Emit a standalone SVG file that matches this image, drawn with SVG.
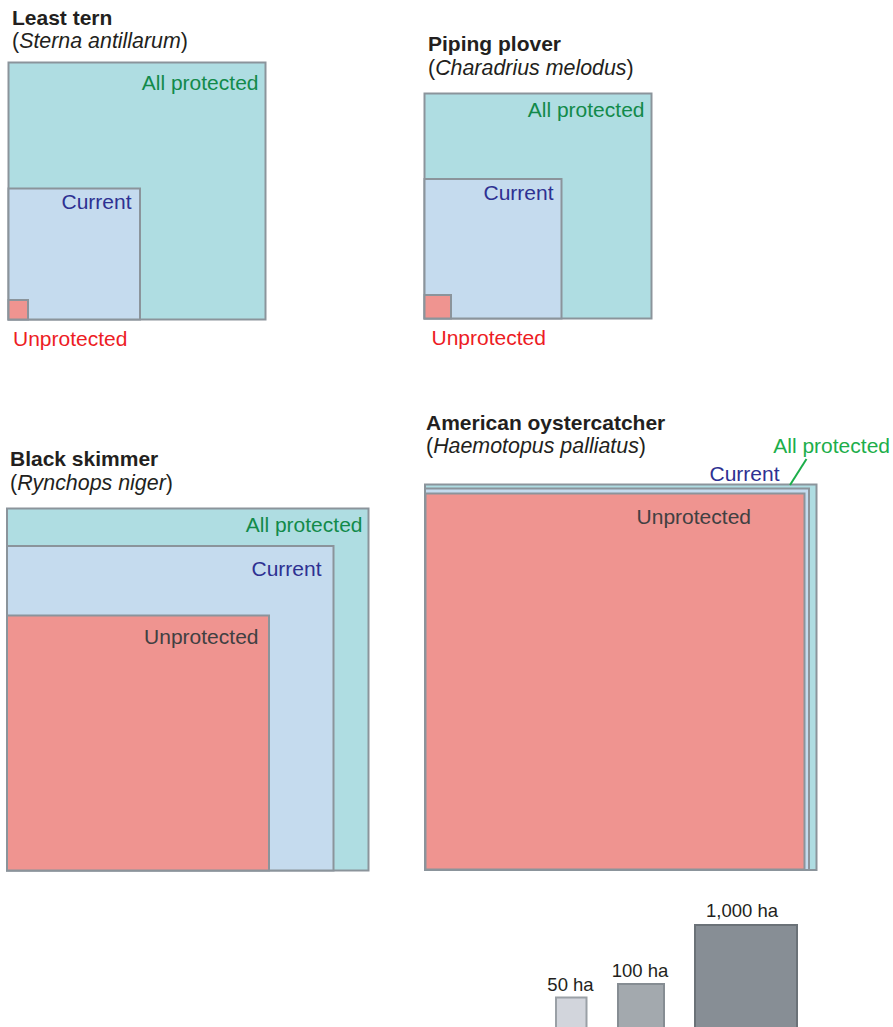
<svg xmlns="http://www.w3.org/2000/svg" width="893" height="1027" viewBox="0 0 893 1027">
<style>
text{font-family:"Liberation Sans",Arial,sans-serif;font-size:21px}
.t{font-weight:bold;fill:#231f20}
.s{fill:#231f20;font-size:21.4px}
.i{font-style:italic}
.r{stroke:#8b949b;stroke-width:2}
.ap{fill:#afdde2}
.cu{fill:#c5dbee}
.un{fill:#ef9490}
.lap{fill:#128a4a;text-anchor:end}
.lcu{fill:#2e3192;text-anchor:end}
.lun{fill:#ed1c24}
.lui{fill:#414042;text-anchor:end}
.sc{font-family:"Liberation Sans",Arial,sans-serif;font-size:18.5px;fill:#231f20;text-anchor:middle}
</style>
<rect width="893" height="1027" fill="#fff"/>
<g id="least-tern">
<text class="t" x="12" y="25">Least tern</text>
<text class="s" x="12" y="48">(<tspan class="i">Sterna antillarum</tspan>)</text>
<rect class="r ap" x="8.5" y="62.5" width="257" height="257"/>
<rect class="r cu" x="8.5" y="188.5" width="131.5" height="131"/>
<rect class="r un" x="8.5" y="300" width="19.5" height="19.5"/>
<text class="lap" x="258.5" y="90">All protected</text>
<text class="lcu" x="131.5" y="209">Current</text>
<text class="lun" x="13" y="346">Unprotected</text>
</g>
<g id="piping-plover">
<text class="t" x="428" y="51">Piping plover</text>
<text class="s" x="428" y="75">(<tspan class="i">Charadrius melodus</tspan>)</text>
<rect class="r ap" x="424.5" y="93.5" width="227" height="225"/>
<rect class="r cu" x="424.5" y="179" width="137" height="139.5"/>
<rect class="r un" x="424.5" y="295" width="26.5" height="23.5"/>
<text class="lap" x="644.5" y="117">All protected</text>
<text class="lcu" x="553.5" y="200">Current</text>
<text class="lun" x="431.5" y="345">Unprotected</text>
</g>
<g id="black-skimmer">
<text class="t" x="10" y="466">Black skimmer</text>
<text class="s" x="10" y="490">(<tspan class="i">Rynchops niger</tspan>)</text>
<rect class="r ap" x="7" y="508.5" width="361.5" height="362"/>
<rect class="r cu" x="7" y="546" width="326.5" height="324.5"/>
<rect class="r un" x="7" y="615.5" width="262" height="255"/>
<text class="lap" x="362.5" y="532">All protected</text>
<text class="lcu" x="321.5" y="576">Current</text>
<text class="lui" x="258.5" y="643.5">Unprotected</text>
</g>
<g id="american-oystercatcher">
<text class="t" x="426" y="430">American oystercatcher</text>
<text class="s" x="426" y="453">(<tspan class="i">Haemotopus palliatus</tspan>)</text>
<rect class="r ap" x="425" y="484.5" width="391.5" height="385.5" stroke-width="2.5"/>
<rect class="r cu" x="425" y="488.5" width="384" height="381.5" stroke-width="2.5"/>
<rect class="r un" x="425.5" y="493.5" width="379" height="376" stroke-width="2.5"/>
<text class="lap" x="890" y="453" style="fill:#1cae4a">All protected</text>
<text class="lcu" x="779.5" y="481">Current</text>
<text class="lui" x="751" y="523.5">Unprotected</text>
</g>
<g id="connectors">
<line x1="806.5" y1="459" x2="790" y2="485" stroke="#1cae4a" stroke-width="2"/>
</g>
<g id="scale-legend">
<rect x="556" y="997.5" width="30.5" height="40" fill="#d2d5dc" stroke="#9aa0a6" stroke-width="2"/>
<text class="sc" x="570.5" y="990.5">50 ha</text>
<rect x="618" y="984" width="46" height="55" fill="#a3a9ae" stroke="#868d93" stroke-width="2"/>
<text class="sc" x="640" y="977">100 ha</text>
<rect x="695" y="925" width="102" height="114" fill="#878e95" stroke="#6b7278" stroke-width="2"/>
<text class="sc" x="742" y="916.5">1,000 ha</text>
</g>
</svg>
